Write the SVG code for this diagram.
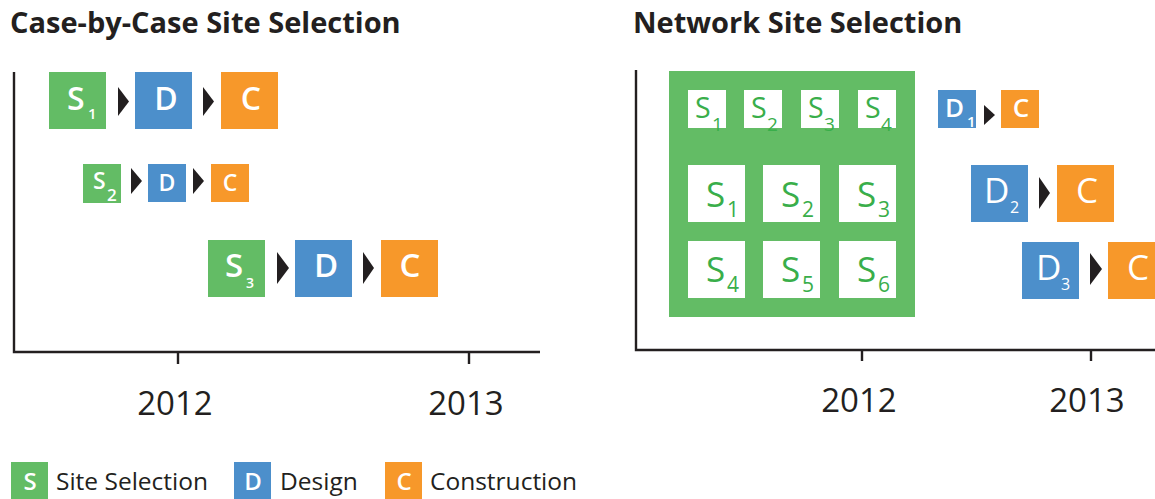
<svg xmlns="http://www.w3.org/2000/svg" width="1155" height="499" viewBox="0 0 1155 499">
<style>
text{font-family:"Open Sans","Noto Sans","DejaVu Sans",sans-serif}
.title{font-size:29px;font-weight:700;fill:#231f20}
.yr{font-size:33px;fill:#231f20;text-anchor:middle}
.leg{font-size:24.5px;fill:#231f20}
.s{fill:#63bc65}.d{fill:#4c8fcb}.c{fill:#f7982a}
.w{fill:#fff}
.wb{fill:#fff;font-weight:600}
.g{fill:#39ae4a}
.ax{stroke:#231f20;stroke-width:2.4;fill:none}
.arr{fill:#231f20}
</style>
<text class="title" x="10" y="33">Case-by-Case Site Selection</text>
<text class="title" x="633" y="33">Network Site Selection</text>

<g id="axes">
<path class="ax" d="M14,72V352H540M178,352V364M469,352V364"/>
<path class="ax" d="M636,70V350H1155M862,350V361M1091,350V361"/>
<text class="yr" x="175" y="415">2012</text>
<text class="yr" x="466" y="415">2013</text>
<text class="yr" x="859" y="412">2012</text>
<text class="yr" x="1087" y="412">2013</text>
</g>

<g id="connectors">
<polygon class="arr" points="118,87 129,101.5 118,116"/>
<polygon class="arr" points="203,87 214,101.5 203,116"/>
<polygon class="arr" points="131,168 142,181 131,194"/>
<polygon class="arr" points="193,168 204,181 193,194"/>
<polygon class="arr" points="277,252 289,268 277,284"/>
<polygon class="arr" points="363,252 374,268 363,284"/>
<polygon class="arr" points="984,105 995,115 984,125"/>
<polygon class="arr" points="1039,177 1050,193 1039,209"/>
<polygon class="arr" points="1090,253 1102,269 1090,285"/>
</g>

<g id="left-row1">
<rect class="s" x="49" y="72" width="57" height="57"/>
<text class="wb" x="67" y="110" font-size="32">S</text><text class="wb" x="88" y="119" font-size="15">1</text>
<rect class="d" x="135" y="72" width="57" height="57"/>
<text class="wb" x="166" y="110" font-size="32" text-anchor="middle">D</text>
<rect class="c" x="221" y="72" width="57" height="57"/>
<text class="wb" x="251" y="110" font-size="32" text-anchor="middle">C</text>
</g>
<g id="left-row2">
<rect class="s" x="83" y="164" width="38" height="39"/>
<text class="wb" x="93" y="189" font-size="23">S</text><text class="wb" x="107" y="201" font-size="17">2</text>
<rect class="d" x="148" y="164" width="38" height="38"/>
<text class="wb" x="167" y="191" font-size="23" text-anchor="middle">D</text>
<rect class="c" x="211" y="164" width="38" height="38"/>
<text class="wb" x="230" y="191" font-size="23" text-anchor="middle">C</text>
</g>
<g id="left-row3">
<rect class="s" x="208" y="240" width="57" height="57"/>
<text class="wb" x="225" y="277" font-size="33">S</text><text class="wb" x="246" y="288" font-size="14">3</text>
<rect class="d" x="295" y="240" width="57" height="57"/>
<text class="wb" x="326" y="277" font-size="33" text-anchor="middle">D</text>
<rect class="c" x="381" y="240" width="57" height="57"/>
<text class="wb" x="410" y="277" font-size="33" text-anchor="middle">C</text>
</g>

<g id="network-block">
<rect class="s" x="669" y="71" width="246" height="246"/>
<rect class="w" x="688" y="90" width="38" height="38"/>
<rect class="w" x="744" y="90" width="38" height="38"/>
<rect class="w" x="801" y="90" width="38" height="38"/>
<rect class="w" x="858" y="90" width="38" height="38"/>
<text class="g" x="695" y="118" font-size="28.5">S</text><text class="g" x="712" y="131" font-size="19">1</text>
<text class="g" x="751" y="118" font-size="28.5">S</text><text class="g" x="767" y="131" font-size="19">2</text>
<text class="g" x="808" y="118" font-size="28.5">S</text><text class="g" x="824" y="131" font-size="19">3</text>
<text class="g" x="865" y="118" font-size="28.5">S</text><text class="g" x="881" y="131" font-size="19">4</text>
<rect class="w" x="688" y="165" width="57" height="57"/>
<rect class="w" x="763" y="165" width="57" height="57"/>
<rect class="w" x="839" y="165" width="57" height="57"/>
<rect class="w" x="688" y="241" width="57" height="57"/>
<rect class="w" x="763" y="241" width="57" height="57"/>
<rect class="w" x="839" y="241" width="57" height="57"/>
<text class="g" x="706" y="207" font-size="35">S</text><text class="g" x="727" y="217" font-size="21">1</text>
<text class="g" x="781" y="207" font-size="35">S</text><text class="g" x="802" y="217" font-size="21">2</text>
<text class="g" x="857" y="207" font-size="35">S</text><text class="g" x="878" y="217" font-size="21">3</text>
<text class="g" x="706" y="282" font-size="35">S</text><text class="g" x="727" y="292" font-size="21">4</text>
<text class="g" x="781" y="282" font-size="35">S</text><text class="g" x="802" y="292" font-size="21">5</text>
<text class="g" x="857" y="282" font-size="35">S</text><text class="g" x="878" y="292" font-size="21">6</text>
</g>

<g id="right-row1">
<rect class="d" x="938" y="90" width="38" height="38"/>
<text class="wb" x="945" y="117" font-size="26">D</text><text class="wb" x="967" y="127" font-size="15">1</text>
<rect class="c" x="1001" y="90" width="38" height="38"/>
<text class="wb" x="1021" y="117" font-size="26" text-anchor="middle">C</text>
</g>
<g id="right-row2">
<rect class="d" x="971" y="165" width="57" height="57"/>
<text class="w" x="984" y="203" font-size="35">D</text><text class="w" x="1010" y="213" font-size="16">2</text>
<rect class="c" x="1057" y="165" width="57" height="57"/>
<text class="w" x="1087" y="203" font-size="35" text-anchor="middle">C</text>
</g>
<g id="right-row3">
<rect class="d" x="1022" y="242" width="57" height="57"/>
<text class="w" x="1036" y="280" font-size="35">D</text><text class="w" x="1061" y="290" font-size="16">3</text>
<rect class="c" x="1108" y="242" width="57" height="57"/>
<text class="w" x="1138" y="280" font-size="35" text-anchor="middle">C</text>
</g>

<g id="legend">
<rect class="s" x="11" y="462" width="37" height="37"/>
<text class="wb" x="30" y="490" font-size="24" text-anchor="middle">S</text>
<text class="leg" x="56" y="490">Site Selection</text>
<rect class="d" x="234" y="462" width="37" height="37"/>
<text class="wb" x="253" y="490" font-size="24" text-anchor="middle">D</text>
<text class="leg" x="280" y="490">Design</text>
<rect class="c" x="385" y="462" width="37" height="37"/>
<text class="wb" x="404" y="490" font-size="24" text-anchor="middle">C</text>
<text class="leg" x="430" y="490">Construction</text>
</g>
</svg>
